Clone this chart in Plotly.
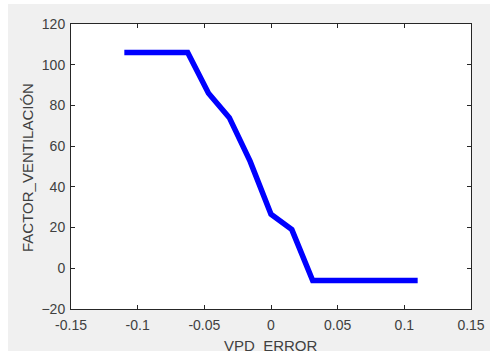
import plotly.graph_objects as go

vpd_error = [-0.11, -0.0625, -0.046875, -0.03125, -0.015625, 0.0, 0.015625, 0.03125, 0.11]
factor_ventilacion = [106, 106, 86, 74, 52.5, 26.5, 19, -6, -6]

x_ticks = [-0.15, -0.1, -0.05, 0, 0.05, 0.1, 0.15]
x_ticktext = ["-0.15", "-0.1", "-0.05", "0", "0.05", "0.1", "0.15"]
y_ticks = [-20, 0, 20, 40, 60, 80, 100, 120]
x_title = "VPD_ERROR"
y_title = "FACTOR_VENTILACIÓN"

W, H = 490, 351
L, R, T, B = 71, 19, 24, 42
pw, ph = W - L - R, H - T - B

def px_x(p):
    return (p - L) / pw

def px_y(p):
    return (H - B - p) / ph

axis_col = "#262626"
txt_col = "#404040"
font_fam = "Liberation Sans, Arial, sans-serif"

fig = go.Figure()
fig.add_trace(go.Scatter(x=vpd_error, y=factor_ventilacion, mode="lines",
                         line=dict(color="#0000ff", width=5.5), showlegend=False))

# white strips at top and left of the window capture
fig.add_shape(type="rect", xref="paper", yref="paper", layer="below",
              x0=px_x(-5), x1=px_x(W + 5), y0=px_y(4), y1=px_y(-5),
              fillcolor="white", line=dict(width=0))
fig.add_shape(type="rect", xref="paper", yref="paper", layer="below",
              x0=px_x(-5), x1=px_x(8), y0=px_y(H + 5), y1=px_y(-5),
              fillcolor="white", line=dict(width=0))

common = dict(showgrid=False, zeroline=False, showline=True, linecolor=axis_col,
              linewidth=1, mirror="allticks", ticks="inside", ticklen=4,
              tickcolor=axis_col, tickwidth=1,
              tickfont=dict(family=font_fam, size=14, color=txt_col))

fig.update_xaxes(range=[-0.15, 0.15], tickvals=x_ticks, ticktext=x_ticktext,
                 ticklabelstandoff=3, **common)
fig.update_yaxes(range=[-20, 120], tickvals=y_ticks, ticklabelstandoff=2, **common)

title_font = dict(family=font_fam, size=15, color=txt_col)
fig.add_annotation(text=x_title, xref="paper", yref="paper", x=px_x(271), y=px_y(356),
                   xanchor="center", yanchor="bottom", showarrow=False, font=title_font)
fig.add_annotation(text=y_title, xref="paper", yref="paper", x=px_x(27), y=px_y(168),
                   xanchor="center", yanchor="middle", textangle=-90, showarrow=False,
                   font=title_font)

fig.update_layout(width=W, height=H, margin=dict(l=L, r=R, t=T, b=B, autoexpand=False),
                  paper_bgcolor="#f0f0f0", plot_bgcolor="white")

fig.write_html("out.html")
